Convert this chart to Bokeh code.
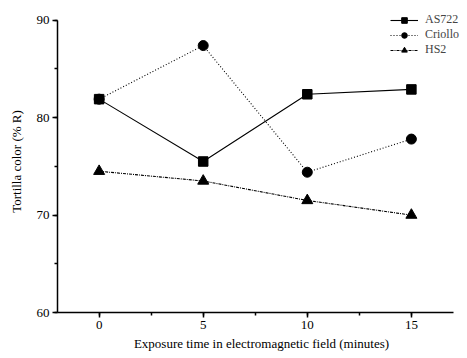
from bokeh.plotting import figure
from bokeh.models import SingleIntervalTicker, Range1d, Legend, LegendItem
from bokeh.embed import file_html
from bokeh.resources import INLINE

times = [0, 5, 10, 15]
as722 = [81.9, 75.5, 82.4, 82.9]
criollo = [81.9, 87.4, 74.4, 77.8]
hs2 = [74.5, 73.5, 71.5, 70.0]

FONT = "Liberation Serif"

p = figure(width=467, height=358, output_backend="svg", toolbar_location=None,
           x_range=Range1d(-2, 17.6), y_range=Range1d(60, 91),
           min_border_left=57, min_border_right=2, min_border_top=10, min_border_bottom=46)
p.outline_line_color = None
p.xgrid.visible = False
p.ygrid.visible = False

l1 = p.line(times, as722, line_color="black", line_width=1.1)
m1 = p.scatter(times, as722, marker="square", size=9.5, color="black")
l2 = p.line(times, criollo, line_color="black", line_width=1.1, line_dash="1 2")
m2 = p.scatter(times, criollo, marker="circle", size=10, color="black")
l3 = p.line(times, hs2, line_color="black", line_width=1.1, line_dash="3 1 1 1")
m3 = p.scatter(times, hs2, marker="triangle", size=11, color="black")

for ax, ticker, bounds in ((p.xaxis[0], SingleIntervalTicker(interval=5, num_minor_ticks=2), (-2, 17)),
                           (p.yaxis[0], SingleIntervalTicker(interval=10, num_minor_ticks=2), (60, 90))):
    ax.ticker = ticker
    ax.bounds = bounds
    ax.axis_line_width = 1.5
    ax.axis_line_color = "black"
    ax.major_tick_line_width = 1.5
    ax.minor_tick_line_width = 1.5
    ax.major_tick_out = 5
    ax.major_tick_in = 0
    ax.minor_tick_out = 3
    ax.minor_tick_in = 0
    ax.major_label_text_font = FONT
    ax.major_label_text_font_size = "13px"
    ax.major_label_text_color = "black"
    ax.major_label_standoff = 3
    ax.axis_label_text_font = FONT
    ax.axis_label_text_font_size = "13px"
    ax.axis_label_text_font_style = "normal"
    ax.axis_label_text_color = "black"

p.xaxis[0].axis_label = "Exposure time in electromagnetic field (minutes)"
p.xaxis[0].axis_label_standoff = 4
p.yaxis[0].axis_label = "Tortilla color (% R)"
p.yaxis[0].axis_label_standoff = 10

legend = Legend(items=[LegendItem(label="AS722", renderers=[l1, m1]),
                       LegendItem(label="Criollo", renderers=[l2, m2]),
                       LegendItem(label="HS2", renderers=[l3, m3])],
                location=(333, 255), padding=0, margin=0, spacing=0,
                glyph_width=28, glyph_height=14, label_standoff=7,
                border_line_color=None, background_fill_alpha=0,
                label_text_font=FONT, label_text_font_size="12px")
p.add_layout(legend)

open("out.html", "w").write(file_html(p, INLINE))
